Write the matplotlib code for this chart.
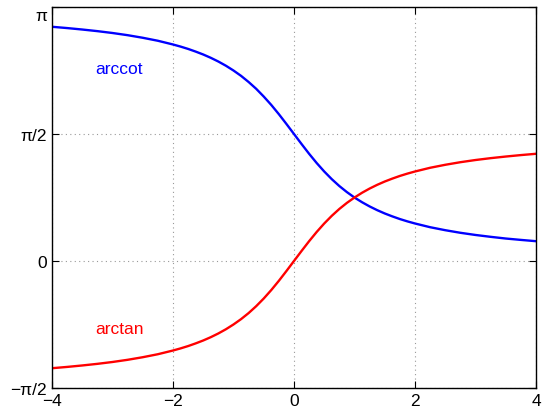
import numpy as np
import matplotlib
matplotlib.use("Agg")
import matplotlib.pyplot as plt
import matplotlib.transforms as mtransforms

plt.rcParams['font.family'] = ['Liberation Sans', 'DejaVu Sans']

# values (denser sampling in the steep middle part)
x_vals = [-4, -3.75, -3.5, -3.25, -3, -2.75, -2.5, -2.25,
          -2, -1.875, -1.75, -1.625, -1.5, -1.375, -1.25, -1.125,
          -1, -0.875, -0.75, -0.625, -0.5, -0.375, -0.25, -0.125,
          0, 0.125, 0.25, 0.375, 0.5, 0.625, 0.75, 0.875,
          1, 1.125, 1.25, 1.375, 1.5, 1.625, 1.75, 1.875,
          2, 2.25, 2.5, 2.75, 3, 3.25, 3.5, 3.75, 4]
arctan_vals = [-1.326, -1.310, -1.292, -1.272, -1.249, -1.222, -1.190, -1.153,
               -1.107, -1.081, -1.052, -1.019, -0.983, -0.942, -0.896, -0.844,
               -0.785, -0.719, -0.644, -0.559, -0.464, -0.359, -0.245, -0.124,
               0.0, 0.124, 0.245, 0.359, 0.464, 0.559, 0.644, 0.719,
               0.785, 0.844, 0.896, 0.942, 0.983, 1.019, 1.052, 1.081,
               1.107, 1.153, 1.190, 1.222, 1.249, 1.272, 1.292, 1.310, 1.326]
arccot_vals = [2.897, 2.881, 2.863, 2.843, 2.820, 2.793, 2.761, 2.724,
               2.678, 2.652, 2.623, 2.590, 2.554, 2.513, 2.467, 2.415,
               2.356, 2.290, 2.214, 2.130, 2.034, 1.930, 1.816, 1.695,
               1.571, 1.447, 1.326, 1.212, 1.107, 1.012, 0.927, 0.852,
               0.785, 0.727, 0.675, 0.629, 0.588, 0.552, 0.519, 0.490,
               0.464, 0.418, 0.381, 0.349, 0.322, 0.299, 0.278, 0.261, 0.245]

x_ticks = [-4, -2, 0, 2, 4]
x_tick_labels = ['\u22124', '\u22122', '0', '2', '4']
y_ticks = [-np.pi / 2, 0, np.pi / 2, np.pi]
y_tick_labels = ['\u2212\u03c0/2', '0', '\u03c0/2', '\u03c0']

fig = plt.figure(figsize=(5.42, 4.10), dpi=100)
ax = fig.add_axes([0.0959, 0.0512, 0.893, 0.9293])

ax.plot(x_vals, arccot_vals, color='#0000ff', lw=1.7)
ax.plot(x_vals, arctan_vals, color='#ff0000', lw=1.7)

ax.text(-3.29, 2.38, 'arccot', color='#0000ff', fontsize=12.5, va='center')
ax.text(-3.29, -0.84, 'arctan', color='#ff0000', fontsize=12.5, va='center')

ax.set_xlim(-4, 4)
ax.set_ylim(-np.pi / 2, np.pi)
ax.set_xticks(x_ticks)
ax.set_xticklabels(x_tick_labels)
ax.set_yticks(y_ticks)
ax.set_yticklabels(y_tick_labels)
ax.tick_params(direction='in', length=5, width=0.8, top=True, right=True,
               labelsize=12.5, colors='black')
ax.grid(True, linestyle=(0, (1, 3)), color='#999999', linewidth=0.8)
for s in ax.spines.values():
    s.set_linewidth(1.0)

# the pi label sits a bit lower than the top edge in the original
pi_label = ax.get_yticklabels()[-1]
pi_label.set_transform(pi_label.get_transform() +
                       mtransforms.ScaledTranslation(0, -5 / 72, fig.dpi_scale_trans))

fig.savefig('out.png', dpi=100)
